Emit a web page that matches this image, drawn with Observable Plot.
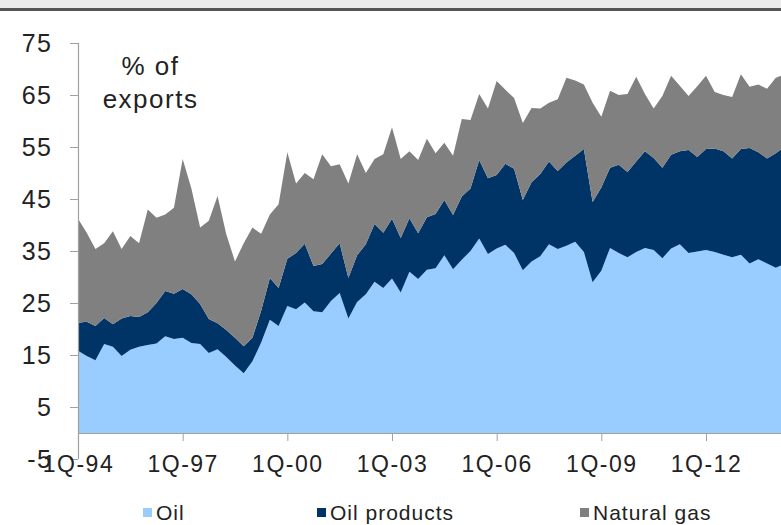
<!DOCTYPE html>
<html><head><meta charset="utf-8">
<script src="https://cdn.jsdelivr.net/npm/d3@7"></script>
<script src="https://cdn.jsdelivr.net/npm/@observablehq/plot@0.6"></script>
<style>
body{margin:0;background:#fff;font-family:"Liberation Sans",Arial,sans-serif;}
#wrap{position:relative;width:781px;height:525px;overflow:hidden;background:#fff;}
#chart{position:absolute;left:0;top:0;}
#band{position:absolute;left:0;top:0;width:781px;height:8px;background:#ececec;}
#topline{position:absolute;left:0;top:8px;width:781px;height:3px;background:#555;}
#legend{position:absolute;top:500px;left:0;width:781px;height:25px;font-size:21px;color:#222;letter-spacing:1px;}
.item{position:absolute;top:0;height:25px;display:flex;align-items:center;}
.sw{width:9px;height:9px;margin-right:4px;}
</style></head><body>
<div id="wrap"><div id="chart"></div><div id="band"></div><div id="topline"></div><div id="legend"></div></div>
<script>
// Quarterly data, 1Q-94 onward (% of exports)
const startYear = 1994;
const series = ["Oil", "Oil products", "Natural gas"];
const colors = ["#99ccff", "#003366", "#808080"];
const oil = [15.8,14.8,14.0,17.1,16.6,14.8,16.0,16.6,16.9,17.2,
  18.6,18.1,18.3,17.3,17.1,15.4,16.1,14.6,13.0,11.5,
  13.8,17.4,21.8,20.6,24.4,23.8,25.1,23.4,23.2,25.4,
  26.9,22.0,25.2,26.7,29.1,27.9,29.7,27.0,31.0,29.6,
  31.4,31.7,34.2,31.5,33.3,35.0,37.4,34.4,35.5,36.2,
  34.6,31.3,33.0,34.0,36.3,35.4,36.0,36.8,34.8,29.0,
  31.2,35.6,34.6,33.8,34.8,35.6,35.2,33.6,35.5,36.3,
  34.6,34.9,35.2,34.8,34.3,33.8,34.3,32.6,33.4,32.6,
  31.8,32.5];
const oilProducts = [5.4,6.6,6.6,5.0,4.3,7.2,6.5,5.7,6.3,7.8,
  8.7,8.7,9.4,9.4,7.7,6.5,5.0,5.2,5.3,5.2,
  4.5,6.1,8.0,7.3,9.1,10.8,11.3,8.7,9.3,9.1,
  9.6,7.8,9.0,9.6,11.1,10.6,11.5,10.5,10.3,8.8,
  10.1,10.4,10.6,10.4,12.2,12.0,15.1,14.6,14.1,15.6,
  16.2,13.5,15.2,15.8,15.9,15.0,16.0,16.5,19.8,15.4,
  16.0,15.4,17.0,16.4,17.4,18.6,17.7,17.4,18.0,17.9,
  19.8,18.2,19.4,19.9,19.9,19.0,20.3,22.2,20.6,20.2,
  22.0,22.5];
const naturalGas = [20.0,17.1,14.8,14.4,17.9,13.4,15.4,14.2,19.8,16.4,
  14.7,16.5,25.0,20.3,14.7,18.9,24.5,18.4,14.7,19.8,
  21.2,14.8,12.2,16.1,20.5,13.4,13.6,16.7,21.1,16.8,
  15.2,18.2,19.4,13.7,12.5,15.1,17.6,15.2,12.9,14.1,
  15.1,11.7,11.0,11.4,14.9,13.2,12.7,13.4,18.1,14.2,
  13.6,14.8,14.3,12.6,11.3,13.8,16.3,14.5,12.4,19.1,
  13.6,14.8,13.4,15.0,16.3,11.0,9.5,13.8,15.2,12.6,
  10.4,13.6,14.1,10.9,10.8,11.8,14.4,11.8,13.0,13.4,
  14.5,14.0];
const yTicks = [-5, 5, 15, 25, 35, 45, 55, 65, 75];
const xTickYears = [1994, 1997, 2000, 2003, 2006, 2009, 2012];
const xTickLabels = ["1Q-94", "1Q-97", "1Q-00", "1Q-03", "1Q-06", "1Q-09", "1Q-12"];
const xEnd = 2014.15;

const data = [];
oil.forEach((v, i) => {
  const t = startYear + i / 4;
  data.push({t, series: series[0], value: v});
  data.push({t, series: series[1], value: oilProducts[i]});
  data.push({t, series: series[2], value: naturalGas[i]});
});

const axisGray = "#a0a0a0";
const chart = Plot.plot({
  width: 781,
  height: 492,
  marginLeft: 78,
  marginRight: 0,
  marginTop: 43,
  marginBottom: 33,
  style: {fontFamily: "'Liberation Sans', Arial, sans-serif", fontSize: "23px", color: "#222", letterSpacing: "1.5px", background: "transparent"},
  x: {domain: [startYear, xEnd], axis: null},
  y: {domain: [-5, 75], axis: null},
  color: {domain: series, range: colors},
  marks: [
    Plot.areaY(data, {x: "t", y: "value", fill: "series", order: series, clip: true, curve: "linear"}),
    Plot.ruleY([0], {stroke: axisGray, strokeWidth: 1.2}),
    Plot.ruleX([startYear], {stroke: axisGray, strokeWidth: 1.2}),
    Plot.ruleX(xTickYears.slice(1), {y1: 0, y2: 0, insetTop: 0, insetBottom: -8, stroke: axisGray}),
    Plot.axisY({ticks: yTicks, label: null, tickSize: 8, tickPadding: 18, stroke: axisGray, fill: "#222", fontSize: 25, tickFormat: d => String(d)}),
    Plot.axisX({ticks: xTickYears, label: null, anchor: "bottom", tickSize: 0, tickPadding: -4, fill: "#222", fontSize: 23,
      tickFormat: d => xTickLabels[xTickYears.indexOf(d)]}),
    Plot.text(["% of\nexports"], {frameAnchor: "top-left", dx: 72, dy: 8, textAnchor: "middle", lineAnchor: "top", fontSize: 26, lineHeight: 1.27, fill: "#222"})
  ]
});
document.getElementById("chart").appendChild(chart);

const legendLeft = [143, 317, 580];
const legend = document.getElementById("legend");
series.forEach((s, i) => {
  const it = document.createElement("div");
  it.className = "item";
  it.style.left = legendLeft[i] + "px";
  const sw = document.createElement("span");
  sw.className = "sw";
  sw.style.background = colors[i];
  const tx = document.createElement("span");
  tx.textContent = s;
  it.appendChild(sw); it.appendChild(tx);
  legend.appendChild(it);
});
</script>
</body></html>
